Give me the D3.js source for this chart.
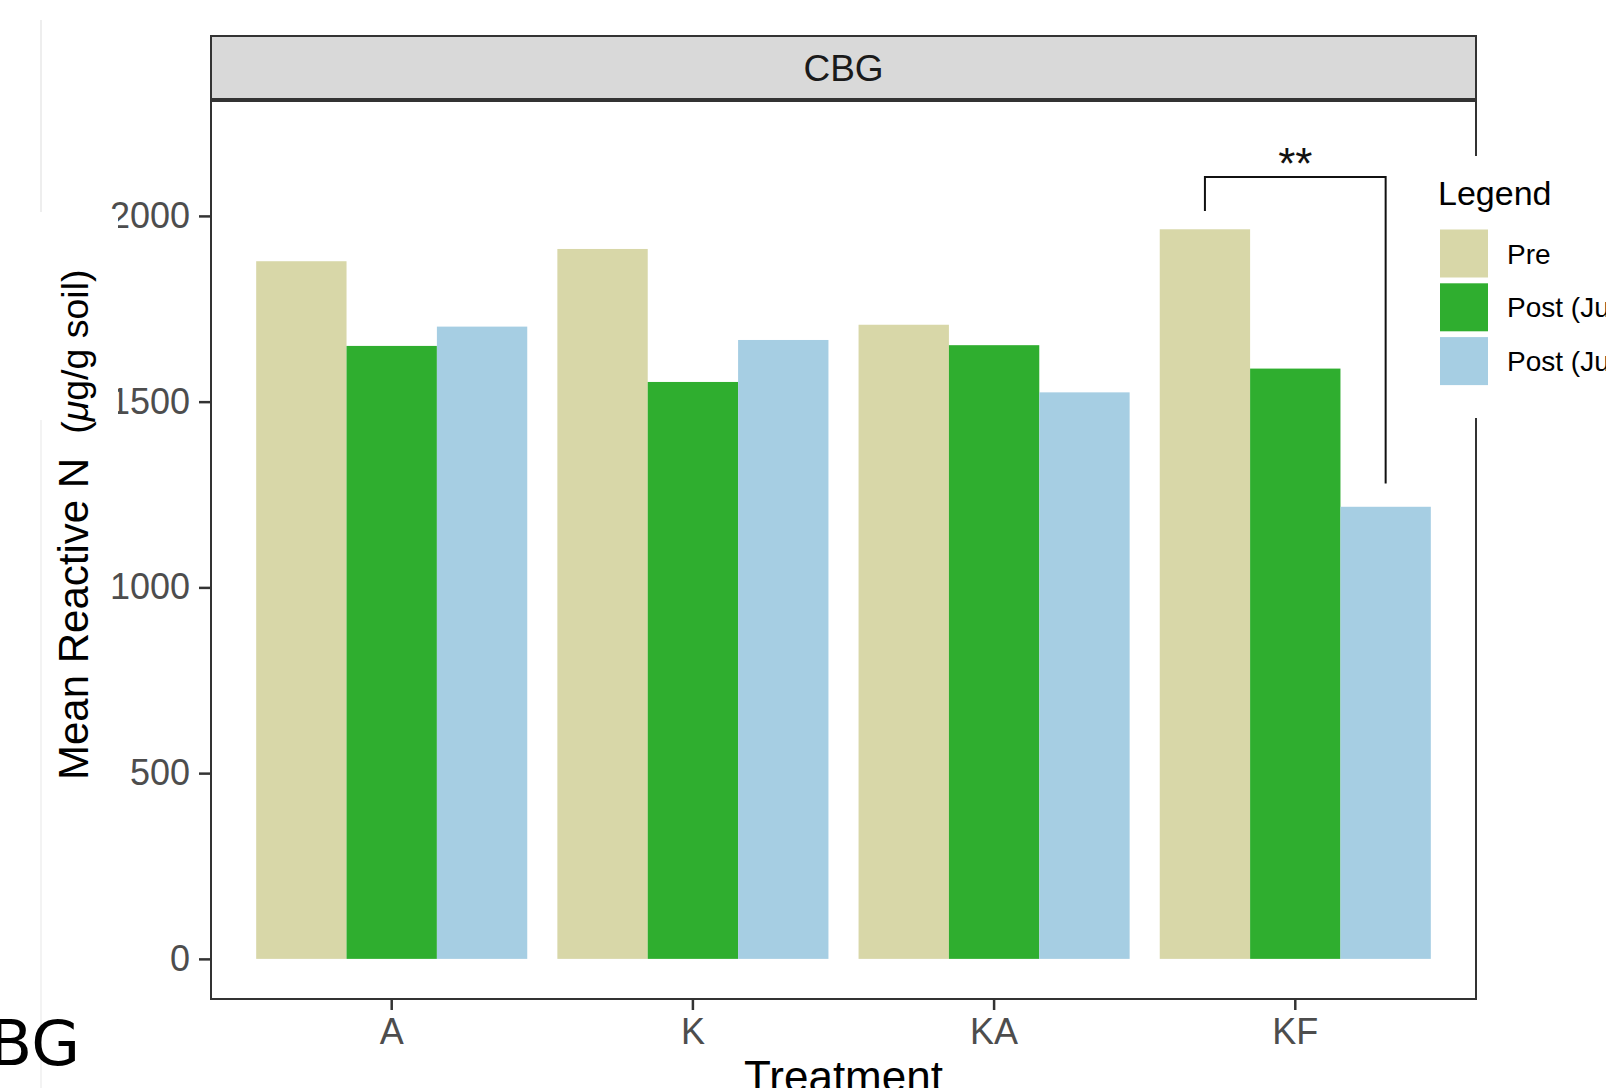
<!DOCTYPE html>
<html>
<head>
<meta charset="utf-8">
<script src="https://cdn.jsdelivr.net/npm/d3@7"></script>
<style>
  html, body { margin: 0; padding: 0; background: #fff; overflow: hidden; }
  svg { display: block; }
</style>
</head>
<body>
<div id="chart"></div>
<script>
const categories = ['A', 'K', 'KA', 'KF'];
const seriesNames = ['Pre', 'Post (June)', 'Post (July)'];
const pre = [1878, 1911, 1707, 1964];
const postJune = [1650, 1553, 1652, 1589];
const postJuly = [1702, 1666, 1525, 1217];
const seriesColors = ['#d8d7a8', '#2fae2f', '#a6cee3'];
const yTicks = [0, 500, 1000, 1500, 2000];
const panelLabel = 'CBG';

// significance bracket on KF: Pre vs Post (July)
const sigCategory = 'KF';
const sigFrom = 'Pre';
const sigTo = 'Post (July)';
const sigLabel = '**';
const sigTop = 2105;
const sigLegs = [2013, 1280];

const width = 1606, height = 1088;
const panel = { left: 211, right: 1476, top: 100, bottom: 999 };
const stripTop = 36;
const font = "'Liberation Sans', Arial, Helvetica, sans-serif";

const svg = d3.select('#chart')
  .append('svg')
  .attr('width', width)
  .attr('height', height);

const x0 = d3.scaleBand()
  .domain(categories)
  .range([panel.left, panel.right])
  .paddingInner(0.1)
  .paddingOuter(0.15);

const x1 = d3.scaleBand()
  .domain(seriesNames)
  .range([0, x0.bandwidth()]);

const y = d3.scaleLinear()
  .domain([-108, 2312])
  .range([panel.bottom, panel.top]);

const color = d3.scaleOrdinal().domain(seriesNames).range(seriesColors);

const rows = categories.map((c, i) => ({
  cat: c,
  values: [pre[i], postJune[i], postJuly[i]].map((v, j) => ({ key: seriesNames[j], value: v }))
}));

// bars
svg.append('g')
  .selectAll('g')
  .data(rows)
  .enter()
  .append('g')
  .attr('transform', d => `translate(${x0(d.cat)},0)`)
  .selectAll('rect')
  .data(d => d.values)
  .enter()
  .append('rect')
  .attr('x', d => x1(d.key))
  .attr('y', d => y(d.value))
  .attr('width', x1.bandwidth())
  .attr('height', d => y(0) - y(d.value))
  .attr('fill', d => color(d.key));

// significance bracket
const bx1 = x0(sigCategory) + x1(sigFrom) + x1.bandwidth() / 2;
const bx2 = x0(sigCategory) + x1(sigTo) + x1.bandwidth() / 2;
svg.append('path')
  .attr('d', `M${bx1},${y(sigLegs[0])}V${y(sigTop)}H${bx2}V${y(sigLegs[1])}`)
  .attr('fill', 'none')
  .attr('stroke', '#111')
  .attr('stroke-width', 2);
svg.append('text')
  .attr('x', (bx1 + bx2) / 2)
  .attr('y', y(sigTop) + 2)
  .attr('text-anchor', 'middle')
  .attr('font-family', font)
  .attr('font-size', 44)
  .attr('fill', '#111')
  .text(sigLabel);

// panel border + strip
svg.append('rect')
  .attr('x', panel.left)
  .attr('y', panel.top)
  .attr('width', panel.right - panel.left)
  .attr('height', panel.bottom - panel.top)
  .attr('fill', 'none')
  .attr('stroke', '#333')
  .attr('stroke-width', 2);
svg.append('rect')
  .attr('x', panel.left)
  .attr('y', stripTop)
  .attr('width', panel.right - panel.left)
  .attr('height', panel.top - stripTop)
  .attr('fill', '#d9d9d9')
  .attr('stroke', '#333')
  .attr('stroke-width', 2);
svg.append('line')
  .attr('x1', panel.left).attr('x2', panel.right)
  .attr('y1', panel.top).attr('y2', panel.top)
  .attr('stroke', '#333')
  .attr('stroke-width', 4);
svg.append('text')
  .attr('x', (panel.left + panel.right) / 2)
  .attr('y', (stripTop + panel.top) / 2 + 13)
  .attr('text-anchor', 'middle')
  .attr('font-family', font)
  .attr('font-size', 37)
  .attr('fill', '#1a1a1a')
  .text(panelLabel);

// y axis
const yAxis = svg.append('g')
  .attr('transform', `translate(${panel.left},0)`)
  .call(d3.axisLeft(y).tickValues(yTicks).tickFormat(d3.format('d')).tickSize(12).tickPadding(9));
yAxis.select('.domain').remove();
yAxis.selectAll('line').attr('stroke', '#333').attr('stroke-width', 2.5);
yAxis.selectAll('text')
  .attr('font-family', font)
  .attr('font-size', 36)
  .attr('fill', '#4d4d4d');

// x axis
const xAxis = svg.append('g')
  .attr('transform', `translate(0,${panel.bottom})`)
  .call(d3.axisBottom(x0).tickSize(11).tickPadding(8));
xAxis.select('.domain').remove();
xAxis.selectAll('line').attr('stroke', '#333').attr('stroke-width', 2.5);
xAxis.selectAll('text')
  .attr('font-family', font)
  .attr('font-size', 36)
  .attr('fill', '#4d4d4d');

// the cropped bits on the left edge
svg.append('rect')
  .attr('x', 42).attr('y', 212)
  .attr('width', 76).attr('height', 208)
  .attr('fill', '#fff');
svg.append('line')
  .attr('x1', 41).attr('x2', 41)
  .attr('y1', 20).attr('y2', 212)
  .attr('stroke', '#eeeeee')
  .attr('stroke-width', 2);
svg.append('line')
  .attr('x1', 41).attr('x2', 41)
  .attr('y1', 420).attr('y2', height)
  .attr('stroke', '#f3f3f3')
  .attr('stroke-width', 2);
svg.append('text')
  .attr('x', 80)
  .attr('y', 1065)
  .attr('text-anchor', 'end')
  .attr('font-family', "'DejaVu Sans', sans-serif")
  .attr('font-size', 63)
  .attr('fill', '#000')
  .text(panelLabel);

// axis titles
const yTitle = svg.append('text')
  .attr('transform', 'translate(88,780) rotate(-90)')
  .attr('font-family', font)
  .attr('fill', '#000');
yTitle.append('tspan').attr('font-size', 42).text('Mean Reactive N');
yTitle.append('tspan').attr('font-size', 37.5).attr('dx', 24).text('(');
yTitle.append('tspan').attr('font-size', 37.5).attr('font-style', 'italic').text('\u03bc');
yTitle.append('tspan').attr('font-size', 37.5).text('g/g soil)');

svg.append('text')
  .attr('x', (panel.left + panel.right) / 2)
  .attr('y', 1092)
  .attr('text-anchor', 'middle')
  .attr('font-family', font)
  .attr('font-size', 44)
  .attr('fill', '#000')
  .text('Treatment');

// legend (runs off the right edge)
const legend = svg.append('g');
legend.append('rect')
  .attr('x', 1425).attr('y', 156)
  .attr('width', width - 1425).attr('height', 262)
  .attr('fill', '#fff');
legend.append('text')
  .attr('x', 1438)
  .attr('y', 205)
  .attr('font-family', font)
  .attr('font-size', 34)
  .attr('fill', '#000')
  .text('Legend');
const keySize = 48, keyStep = 53.8, keyTop = 229.5;
seriesNames.forEach((s, i) => {
  legend.append('rect')
    .attr('x', 1440)
    .attr('y', keyTop + i * keyStep)
    .attr('width', keySize)
    .attr('height', keySize)
    .attr('fill', color(s));
  legend.append('text')
    .attr('x', 1507)
    .attr('y', keyTop + i * keyStep + keySize / 2 + 10)
    .attr('font-family', font)
    .attr('font-size', 28)
    .attr('fill', '#000')
    .text(s);
});
</script>
</body>
</html>
